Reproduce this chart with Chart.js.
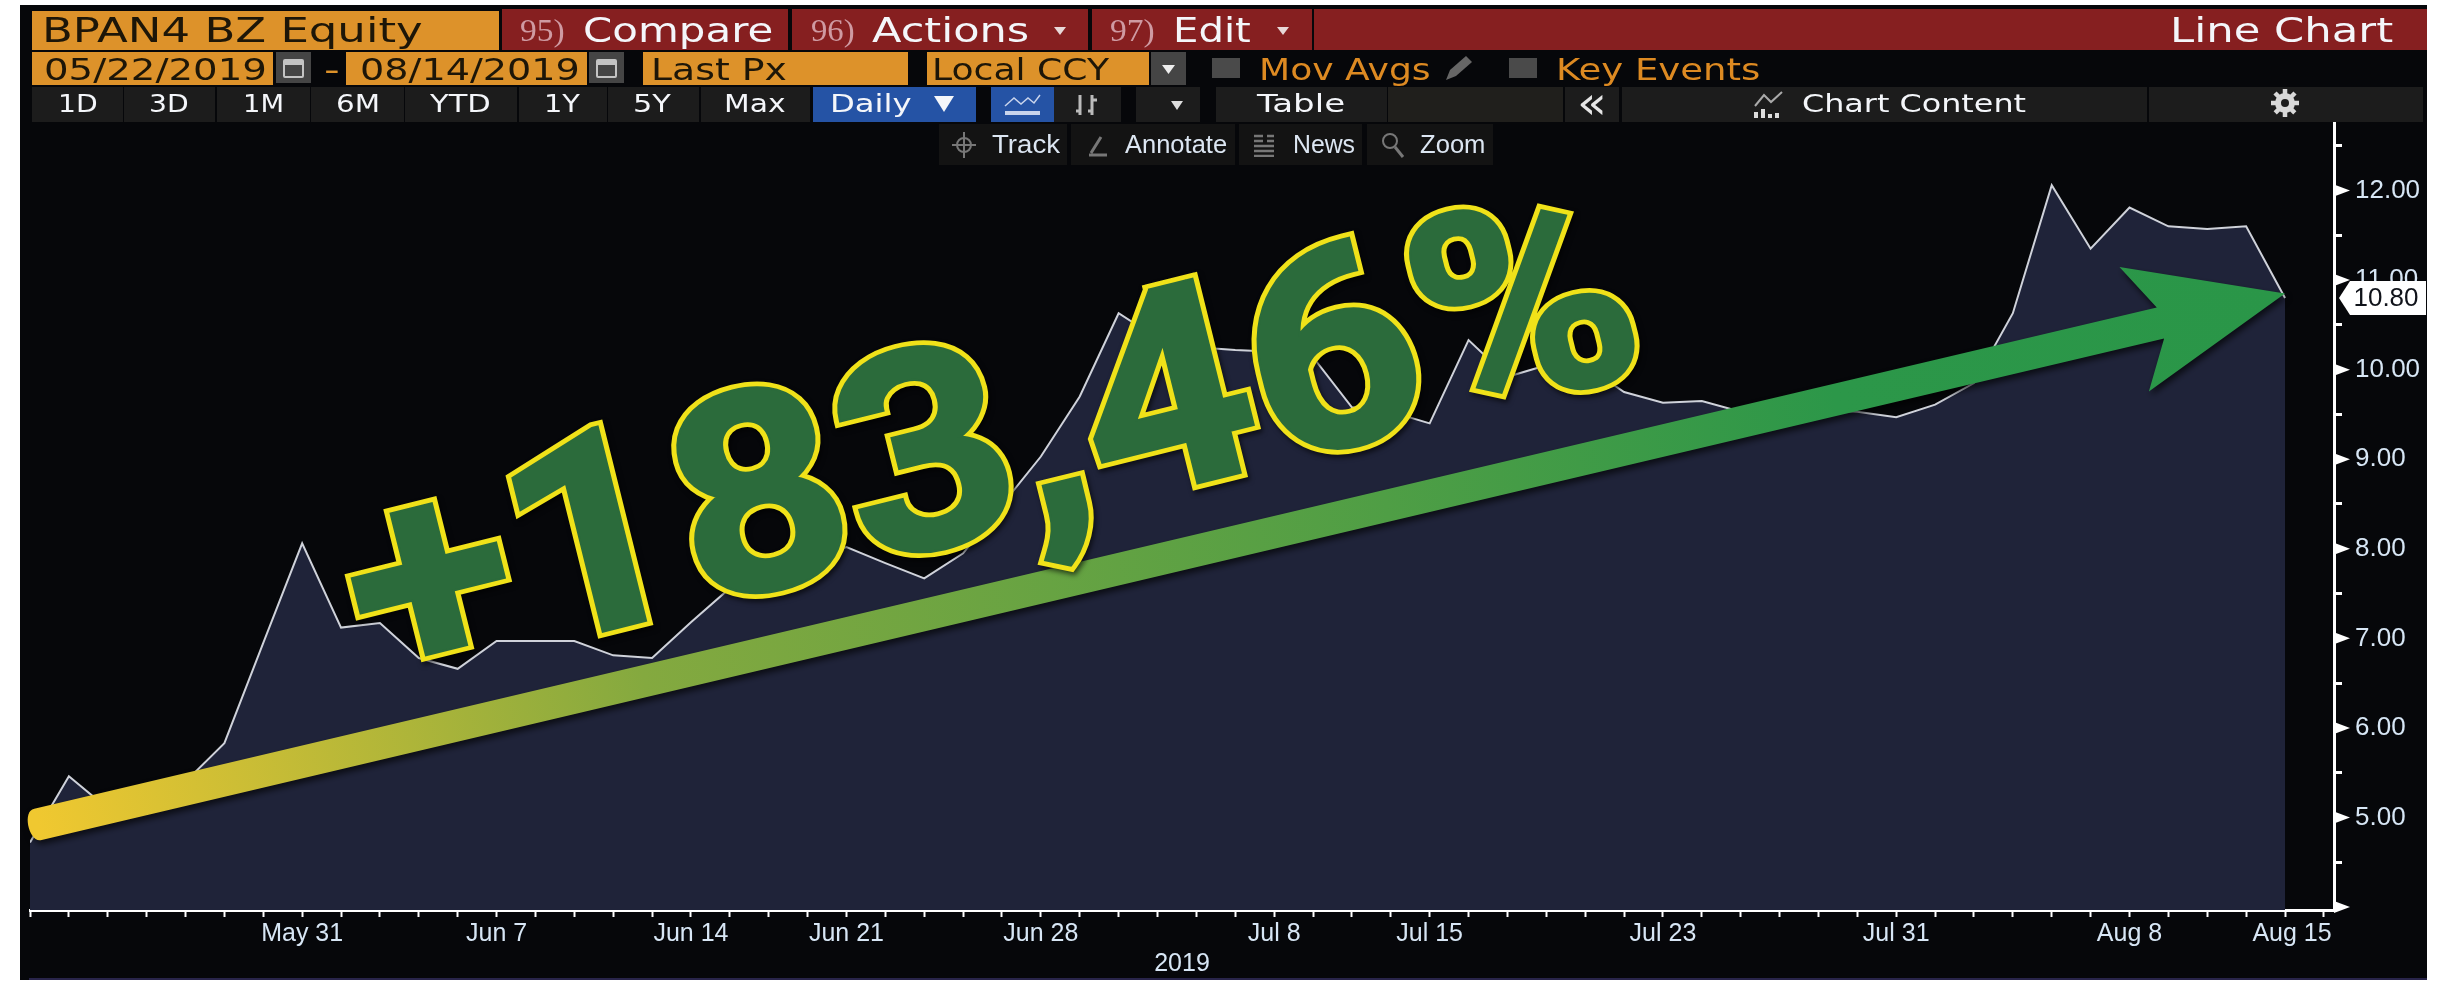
<!DOCTYPE html>
<html>
<head>
<meta charset="utf-8">
<title>BPAN4 BZ Equity</title>
<script src="https://cdn.jsdelivr.net/npm/chart.js@4/dist/chart.umd.min.js"></script>
<style>
  html, body { margin: 0; padding: 0; background: #fff; overflow: hidden; }
  #page { position: relative; width: 2447px; height: 985px; background: #fff; }
  #panel { position: absolute; left: 20px; top: 5px; width: 2407px; height: 975px; background: #06070a; }
  #chart { position: absolute; left: 0; top: 0; }
  #bar { position: absolute; left: 0; top: 0; width: 2447px; height: 985px; }
  .box { position: absolute; }
  .txt { position: absolute; white-space: nowrap; line-height: 1; transform-origin: 0 50%; }
  svg { position: absolute; }
</style>
</head>
<body>
<div id="page">
  <div id="panel"></div>
  <canvas id="chart" width="2447" height="985"></canvas>
  <div id="bar"></div>
</div>
<script>
// trading days on the axis (Aug 15 has a tick but no price yet)
const dates = [
  "May 22","May 23","May 24","May 27","May 28","May 29","May 30","May 31",
  "Jun 3","Jun 4","Jun 5","Jun 6","Jun 7","Jun 10","Jun 11","Jun 12","Jun 13","Jun 14",
  "Jun 17","Jun 18","Jun 19","Jun 21","Jun 24","Jun 25","Jun 26","Jun 27","Jun 28",
  "Jul 1","Jul 2","Jul 3","Jul 4","Jul 5","Jul 8","Jul 10","Jul 11","Jul 12","Jul 15",
  "Jul 16","Jul 17","Jul 18","Jul 19","Jul 22","Jul 23","Jul 24","Jul 25","Jul 26",
  "Jul 29","Jul 30","Jul 31","Aug 1","Aug 2","Aug 5","Aug 6","Aug 7","Aug 8","Aug 9",
  "Aug 12","Aug 13","Aug 14","Aug 15"
];
// last price
const prices = [
  4.72,5.46,5.10,5.25,5.40,5.83,6.95,8.06,7.12,7.17,6.78,6.66,6.97,6.97,6.97,6.81,6.78,
  7.18,7.56,7.72,7.87,8.02,7.84,7.67,7.95,8.49,9.03,9.70,10.63,10.35,10.25,10.22,10.20,
  10.14,9.58,9.53,9.40,10.33,9.92,10.05,10.05,9.75,9.63,9.65,9.53,9.55,9.55,9.53,9.47,
  9.61,9.85,10.63,12.06,11.35,11.81,11.60,11.57,11.60,10.80
];
const labelledDates = ["May 31","Jun 7","Jun 14","Jun 21","Jun 28","Jul 8","Jul 15","Jul 23","Jul 31","Aug 8","Aug 15"];
const priceTicks = [4,4.5,5,5.5,6,6.5,7,7.5,8,8.5,9,9.5,10,10.5,11,11.5,12,12.5];
const yearLabel = "2019";
const gainLabel = "+183,46%";

const TICK_FONT = '"Liberation Sans"';

//================ overlays drawn on top of the chart ========================
const overlayPlugin = {
  id: "overlay",
  afterDatasetsDraw(chart) {
    const { ctx, scales } = chart;
    const { x, y } = scales;

    // triangle pointers on the whole numbers of the price axis
    ctx.save();
    ctx.fillStyle = "#fff";
    priceTicks.filter((v) => Number.isInteger(v)).forEach((v) => {
      const py = y.getPixelForValue(v);
      ctx.beginPath();
      ctx.moveTo(x.right, py - 6);
      ctx.lineTo(x.right + 16, py);
      ctx.lineTo(x.right, py + 6);
      ctx.fill();
    });
    ctx.restore();

    // arrow from the first price to the last one
    const last = prices[prices.length - 1];
    const x0 = x.getPixelForValue(0) + 8;
    const y0 = y.getPixelForValue(4.9) - 2;
    const x1 = x.getPixelForValue(prices.length - 1);
    const y1 = y.getPixelForValue(last + 0.05);
    const angle = Math.atan2(y1 - y0, x1 - x0);
    const len = Math.hypot(x1 - x0, y1 - y0);
    ctx.save();
    ctx.translate(x0, y0);
    ctx.rotate(angle);
    const grad = ctx.createLinearGradient(0, 0, len, 0);
    grad.addColorStop(0, "#f0c830");
    grad.addColorStop(0.27, "#84a93f");
    grad.addColorStop(0.6, "#4f9e45");
    grad.addColorStop(0.8, "#2c9749");
    grad.addColorStop(1, "#2a9648");
    ctx.fillStyle = grad;
    ctx.shadowColor = "rgba(0,0,0,0.65)";
    ctx.shadowBlur = 6;
    ctx.shadowOffsetX = 2;
    ctx.shadowOffsetY = 4;
    ctx.beginPath();
    ctx.moveTo(0, -16);
    ctx.lineTo(len - 128, -16);
    ctx.lineTo(len - 155, -64);
    ctx.lineTo(len, 0);
    ctx.lineTo(len - 155, 64);
    ctx.lineTo(len - 128, 16);
    ctx.lineTo(0, 16);
    ctx.bezierCurveTo(-13, 17, -13, -17, 0, -16);
    ctx.fill();
    ctx.restore();

    // big rotated gain text, yellow ring first and the green on top so glyph overlaps stay hidden
    ctx.save();
    ctx.font = "bold 265px Roboto";
    const gainWidth = ctx.measureText(gainLabel).width;
    ctx.translate(372, 688);
    ctx.rotate(angle - 0.012);
    ctx.scale(1320 / gainWidth, 1.05);
    ctx.textAlign = "left";
    ctx.textBaseline = "alphabetic";
    ctx.lineJoin = "miter";
    ctx.miterLimit = 3;
    ctx.shadowColor = "rgba(0,0,0,0.6)";
    ctx.shadowBlur = 5;
    ctx.shadowOffsetX = 2;
    ctx.shadowOffsetY = 3;
    ctx.strokeStyle = "#f0e219";
    ctx.lineWidth = 13;
    ctx.strokeText(gainLabel, 0, 0);
    ctx.shadowColor = "transparent";
    ctx.strokeStyle = "#2b6b3b";
    ctx.lineWidth = 4;
    ctx.strokeText(gainLabel, 0, 0);
    ctx.fillStyle = "#2b6b3b";
    ctx.fillText(gainLabel, 0, 0);
    ctx.restore();

    // last price tag
    const ty = y.getPixelForValue(last);
    ctx.save();
    ctx.fillStyle = "#fff";
    ctx.beginPath();
    ctx.moveTo(2339, ty);
    ctx.lineTo(2350, ty - 17);
    ctx.lineTo(2426, ty - 17);
    ctx.lineTo(2426, ty + 17);
    ctx.lineTo(2350, ty + 17);
    ctx.closePath();
    ctx.fill();
    ctx.fillStyle = "#10131a";
    ctx.font = "26px " + TICK_FONT;
    ctx.textAlign = "center";
    ctx.textBaseline = "middle";
    ctx.fillText(last.toFixed(2), 2386, ty + 1);
    ctx.restore();
  },
};

//================ chart ========================
new Chart(document.getElementById("chart"), {
  type: "line",
  data: {
    datasets: [
      {
        data: prices.map((p, i) => ({ x: i, y: p })),
        borderColor: "#cfd2da",
        borderWidth: 2,
        backgroundColor: "#1f2339",
        fill: "start",
        tension: 0,
        pointRadius: 0,
      },
    ],
  },
  options: {
    responsive: false,
    animation: false,
    layout: { padding: { left: 30, top: 122, right: 0, bottom: 0 } },
    plugins: { legend: { display: false }, tooltip: { enabled: false } },
    scales: {
      x: {
        type: "linear",
        min: 0,
        max: 59.26,
        afterFit(scale) {
          scale.height = 75;
        },
        afterBuildTicks(scale) {
          // every day gets a tick, the last label sits left of its tick to stay in the frame
          const ticks = dates.map((d, i) => ({ value: i }));
          ticks.push({ value: 58.18 });
          scale.ticks = ticks;
        },
        border: { color: "#fff", width: 3 },
        grid: {
          drawOnChartArea: false,
          tickLength: 7,
          tickWidth: 2,
          tickColor: (c) => (c.tick && Number.isInteger(c.tick.value) ? "#fff" : "transparent"),
        },
        ticks: {
          autoSkip: false,
          maxRotation: 0,
          padding: 2,
          color: "#d7e6f5",
          font: { family: TICK_FONT, size: 25 },
          callback(value) {
            if (!Number.isInteger(value)) return dates[dates.length - 1];
            const d = dates[value];
            return d !== "Aug 15" && labelledDates.includes(d) ? d : "";
          },
        },
        title: {
          display: true,
          text: yearLabel,
          color: "#d7e6f5",
          font: { family: TICK_FONT, size: 25 },
          padding: { top: 0, bottom: 6 },
        },
      },
      y: {
        position: "right",
        min: 3.967,
        max: 12.765,
        afterFit(scale) {
          scale.width = 113;
        },
        afterBuildTicks(scale) {
          scale.ticks = priceTicks.map((v) => ({ value: v }));
        },
        border: { color: "#fff", width: 3 },
        grid: { drawOnChartArea: false, tickLength: 8, tickWidth: 3, tickColor: "#fff" },
        ticks: {
          autoSkip: false,
          padding: 13,
          color: "#d7e6f5",
          font: { family: TICK_FONT, size: 26 },
          callback: (v) => (Number.isInteger(v) && v > 4 ? v.toFixed(2) : ""),
        },
      },
    },
  },
  plugins: [overlayPlugin],
});

//================ terminal toolbars ========================
const bar = document.getElementById("bar");

function box(x0, x1, y0, y1, color) {
  const d = document.createElement("div");
  d.className = "box";
  d.style.cssText = `left:${x0}px;top:${y0}px;width:${x1 - x0}px;height:${y1 - y0}px;background:${color}`;
  bar.append(d);
}

// text squeezed or stretched to run from x0 to x1, centred on cy
function txt(str, x0, x1, cy, size, color, family) {
  const s = document.createElement("span");
  s.className = "txt";
  s.textContent = str;
  s.style.cssText = `left:${x0}px;top:${cy}px;font:${size}px ${family || '"DejaVu Sans"'};color:${color}`;
  bar.append(s);
  const k = (x1 - x0) / s.offsetWidth;
  s.style.transform = `translateY(-50%) scaleX(${k})`;
}

function icon(x, y, w, h, inner) {
  bar.insertAdjacentHTML("beforeend", `<svg style="left:${x}px;top:${y}px" width="${w}" height="${h}" viewBox="0 0 ${w} ${h}">${inner}</svg>`);
}

function caret(cx, cy, w, h, color) {
  icon(cx - w / 2, cy - h / 2, w, h, `<polygon points="0,0 ${w},0 ${w / 2},${h}" fill="${color}"/>`);
}

const ORANGE = "#dd922a", MAROON = "#861f20", DARK = "#1c1c1c", INK = "#1d1608", WHITE = "#f4f6fa";
const PINK = "#cf9aa2", AMBER = "#dd8a22";

// row 1
box(32, 499, 11, 50, ORANGE);
txt("BPAN4 BZ Equity", 42, 423, 30, 34, INK);
box(502, 788, 9, 50, MAROON);
txt("95)", 520, 565, 30, 32, PINK, '"Liberation Serif"');
txt("Compare", 583, 773, 30, 34, WHITE);
box(792, 1088, 9, 50, MAROON);
txt("96)", 811, 855, 30, 32, PINK, '"Liberation Serif"');
txt("Actions", 872, 1029, 30, 34, WHITE);
caret(1060, 31, 12, 8, "#e8d8d8");
box(1092, 1312, 9, 50, MAROON);
txt("97)", 1110, 1155, 30, 32, PINK, '"Liberation Serif"');
txt("Edit", 1173, 1251, 30, 34, WHITE);
caret(1283, 31, 12, 8, "#e8d8d8");
box(1314, 2427, 9, 50, MAROON);
txt("Line Chart", 2170, 2393, 30, 34, WHITE);

// row 2
const calendar = '<rect x="8" y="8" width="19" height="17" rx="1" fill="none" stroke="#c4c4c4" stroke-width="2"/><rect x="8" y="8" width="19" height="5" fill="#c4c4c4"/>';
box(32, 273, 52, 85, ORANGE);
txt("05/22/2019", 44, 267, 69, 30, INK);
box(276, 311, 52, 83, "#454545");
icon(276, 52, 35, 31, calendar);
txt("-", 324, 340, 69, 30, ORANGE);
box(346, 587, 52, 85, ORANGE);
txt("08/14/2019", 360, 580, 69, 30, INK);
box(589, 624, 52, 83, "#454545");
icon(589, 52, 35, 31, calendar);
box(643, 908, 52, 85, ORANGE);
txt("Last Px", 651, 787, 69, 30, INK);
box(927, 1149, 52, 85, ORANGE);
txt("Local CCY", 932, 1109, 69, 30, INK);
box(1151, 1186, 52, 85, "#454545");
caret(1168, 69, 13, 9, "#eee");
box(1212, 1240, 58, 78, "#4a4a4a");
txt("Mov Avgs", 1259, 1431, 69, 30, AMBER);
icon(1442, 54, 34, 28, '<polygon points="4,26 8,16 24,2 30,8 14,22" fill="#666"/>');
box(1509, 1537, 58, 78, "#4a4a4a");
txt("Key Events", 1556, 1761, 69, 30, AMBER);

// row 3
[[32,123,"1D",58,98],[124,215,"3D",149,189],[217,310,"1M",243,284],[311,404,"6M",336,380],
 [405,517,"YTD",430,491],[519,607,"1Y",544,580],[608,699,"5Y",633,671],[701,810,"Max",724,786]].forEach((b) => {
  box(b[0], b[1], 87, 122, DARK);
  txt(b[2], b[3], b[4], 104, 24, WHITE);
});
box(813, 976, 87, 122, "#2553a5");
txt("Daily", 830, 912, 104, 24, WHITE);
caret(944, 104, 20, 16, WHITE);
box(991, 1054, 87, 122, "#2553a5");
icon(1004, 92, 38, 26, '<polyline points="1,14 10,6 17,12 24,6 30,11 36,3" fill="none" stroke="#c9d4ec" stroke-width="1.5"/><rect x="1" y="19" width="35" height="4" fill="#c9d4ec"/>');
box(1054, 1121, 87, 122, DARK);
icon(1072, 91, 30, 28, '<path d="M8 4V24M4 20H8M20 4V24M20 9H25M20 20H16" stroke="#bbb" stroke-width="3" fill="none"/>');
box(1136, 1200, 87, 122, DARK);
caret(1177, 105, 12, 9, "#ddd");
box(1216, 1387, 87, 122, DARK);
txt("Table", 1257, 1345, 104, 24, WHITE);
box(1388, 1563, 87, 122, "#201f1c");
box(1565, 1619, 87, 122, DARK);
txt("«", 1577, 1607, 102, 44, "#e6e6e6");
box(1622, 2147, 87, 122, DARK);
icon(1752, 90, 34, 30, '<polyline points="3,16 12,5 19,12 30,2" fill="none" stroke="#aaa" stroke-width="2"/><path d="M4 28V22M11 28V19M18 28V24M25 28V23" stroke="#ddd" stroke-width="4"/>');
txt("Chart Content", 1802, 2026, 104, 24, WHITE);
box(2149, 2423, 87, 122, DARK);
icon(2270, 88, 30, 30, '<circle cx="15" cy="15" r="7" fill="none" stroke="#d8d8d8" stroke-width="6"/><path d="M15 1V29M1 15H29M5 5L25 25M25 5L5 25" stroke="#d8d8d8" stroke-width="4.5" stroke-dasharray="6 16"/>');

// row 4, chart tools
box(939, 1067, 124, 165, "#131313");
icon(950, 130, 28, 30, '<circle cx="14" cy="15" r="7" fill="none" stroke="#777" stroke-width="2"/><path d="M14 2V28M2 15H26" stroke="#777" stroke-width="2"/>');
txt("Track", 992, 1060, 144, 26, "#dce6f2", '"Liberation Sans"');
box(1071, 1235, 124, 165, "#131313");
icon(1085, 131, 26, 28, '<path d="M4 24H22M6 22L16 6" stroke="#777" stroke-width="3" fill="none"/>');
txt("Annotate", 1125, 1227, 144, 26, "#dce6f2", '"Liberation Sans"');
box(1239, 1362, 124, 165, "#131313");
icon(1254, 133, 22, 24, '<path d="M0 3H9M0 8H9M13 3H20M13 8H20M0 13H20M0 18H20M0 23H20" stroke="#777" stroke-width="2.5"/>');
txt("News", 1293, 1355, 144, 26, "#dce6f2", '"Liberation Sans"');
box(1367, 1493, 124, 165, "#131313");
icon(1380, 130, 26, 30, '<circle cx="10" cy="11" r="7" fill="none" stroke="#777" stroke-width="2"/><path d="M15 17L23 27" stroke="#777" stroke-width="3"/>');
txt("Zoom", 1420, 1485, 144, 26, "#dce6f2", '"Liberation Sans"');

// thin strip along the bottom of the panel
box(29, 2427, 978, 980, "#28244a");
</script>
</body>
</html>
